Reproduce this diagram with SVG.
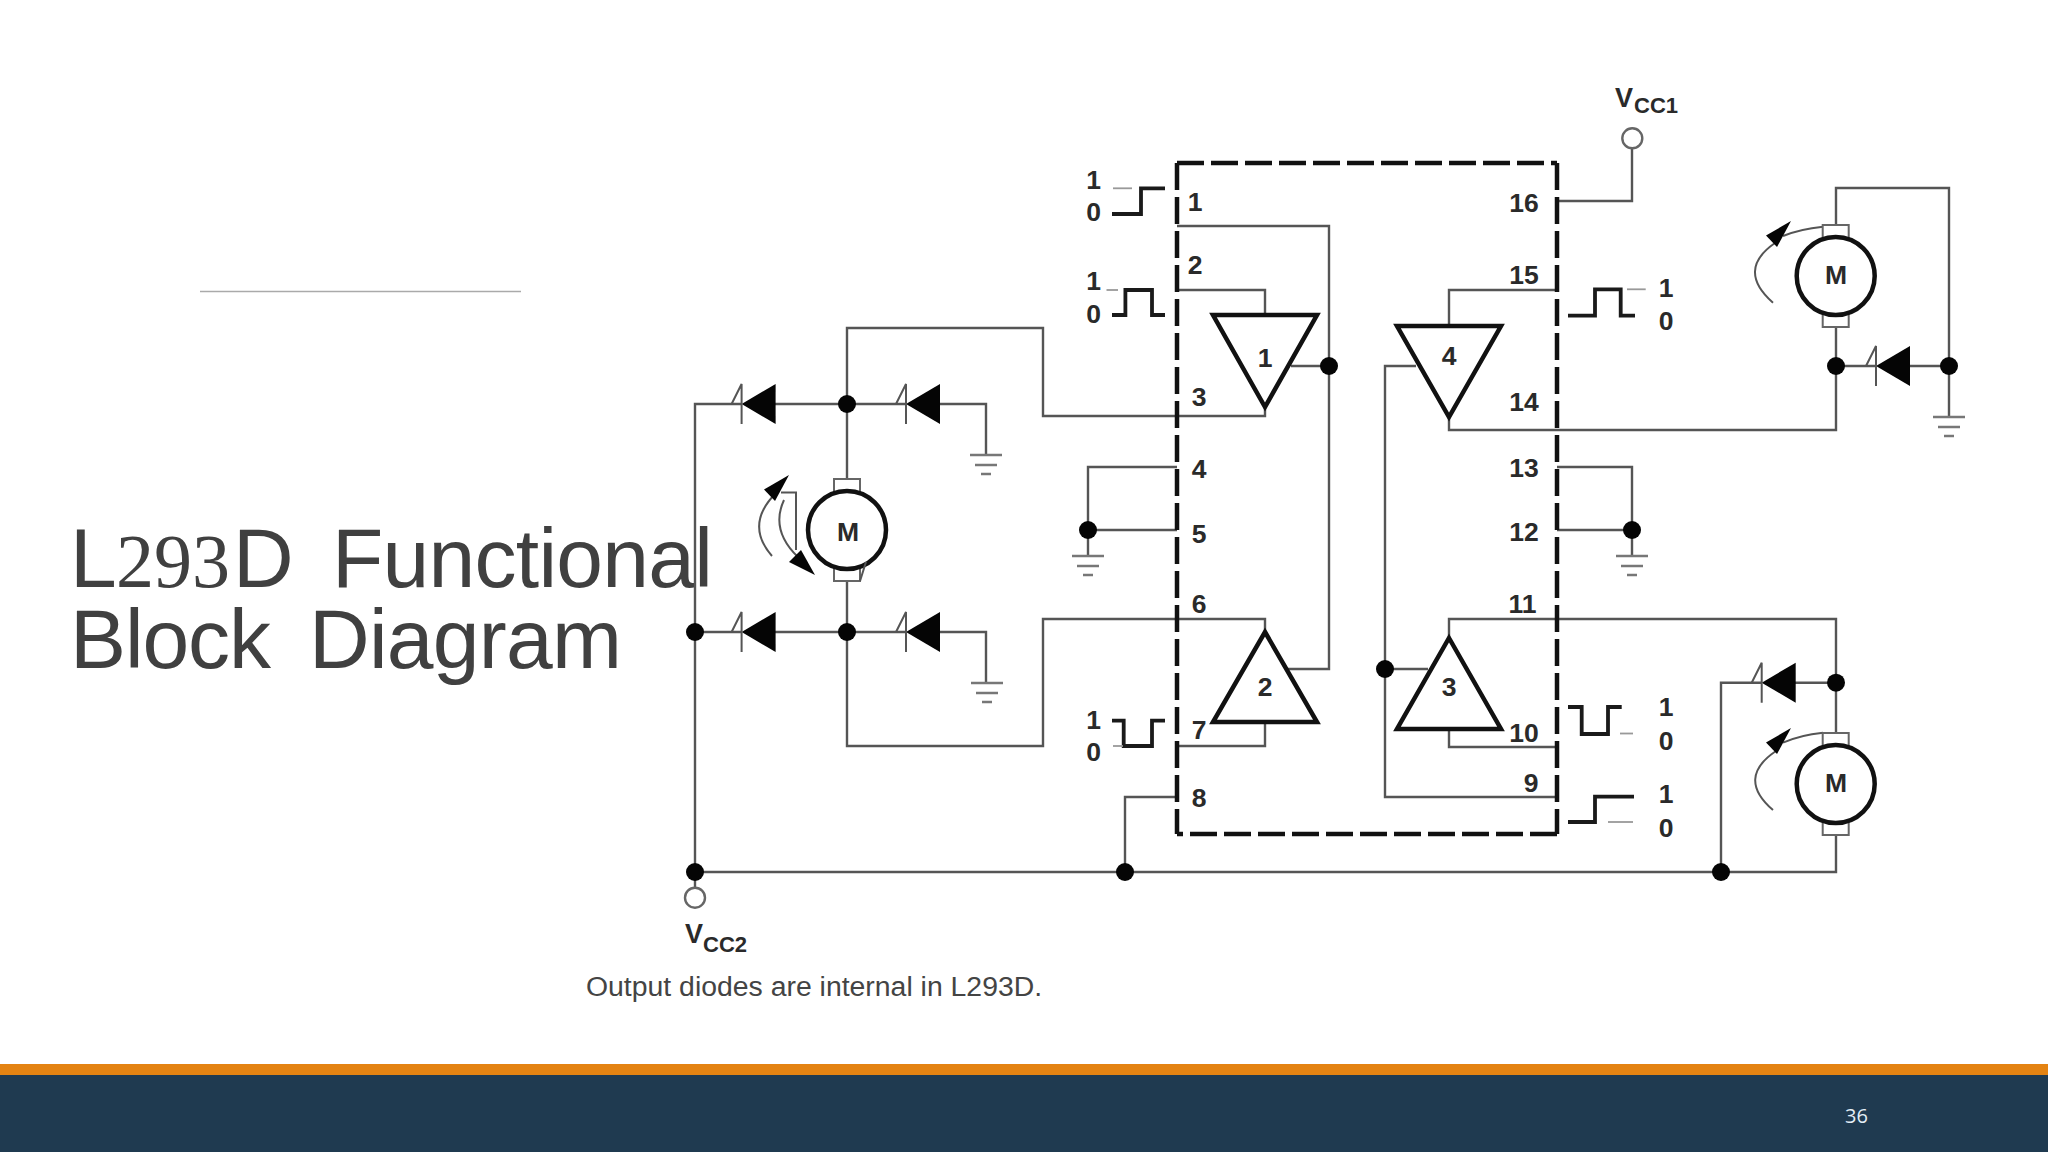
<svg xmlns="http://www.w3.org/2000/svg" xmlns:xlink="http://www.w3.org/1999/xlink" width="2048" height="1152" viewBox="0 0 2048 1152">
<style>
text{font-family:"Liberation Sans",Arial,sans-serif}
.t{font-family:"Liberation Sans",Arial,sans-serif;font-size:84px;fill:#404040}
.p{font-size:26.500px;font-weight:bold;fill:#2a2a2a;text-anchor:middle}
.w{fill:none;stroke:#555;stroke-width:2.4;stroke-linejoin:miter}
.box{fill:none;stroke:#111;stroke-width:4.5;stroke-dasharray:27 7}
.tri{fill:#fff;stroke:#111;stroke-width:4.5;stroke-linejoin:miter}
.wf{fill:none;stroke:#1a1a1a;stroke-width:3.8}
.ft{fill:none;stroke:#999;stroke-width:1.8}
.dot{fill:#050505}
.thin{fill:none;stroke:#555;stroke-width:2}
.open{fill:#fff;stroke:#666;stroke-width:2.4}
.mc{fill:#fff;stroke:#111;stroke-width:4.5}
.tab{fill:#fff;stroke:#666;stroke-width:2}
</style>
<defs>
<g id="diode"><path d="M0 0L34 -20V20Z" fill="#050505"/><path d="M0 20V-20L-10 0" class="thin"/></g>
<g id="gnd"><path d="M-16 0H16M-11 10H11M-5 19H5" fill="none" stroke="#777" stroke-width="2.6"/></g>
<g id="motor"><rect x="-13" y="-51" width="26" height="14" class="tab"/><rect x="-13" y="38" width="26" height="13" class="tab"/><circle r="39" class="mc"/></g>
<path id="head" d="M0 0L-25 14.500L-14 26Z" fill="#050505"/>
</defs>
<rect width="2048" height="1152" fill="#fff"/>
<path d="M200 291.500H521" fill="none" stroke="#aaa" stroke-width="1.600"/>
<text id="title-line-1" class="t"><tspan x="70" y="586.700">L</tspan><tspan x="116" y="586.700" style="font-family:'Liberation Serif',serif;font-size:76px">293</tspan><tspan x="233" y="586.700">D</tspan><tspan x="332" y="586.700" textLength="381" lengthAdjust="spacing">Functional</tspan></text>
<text id="title-line-2" class="t"><tspan x="70" y="667.700" textLength="201" lengthAdjust="spacing">Block</tspan><tspan x="309" y="667.700" textLength="313" lengthAdjust="spacing">Diagram</tspan></text>

<g id="connectors">
<path class="w" d="M695 897V404H742M775 404H906M940 404H986V455"/>
<path class="w" d="M847 404V328H1043V416H1265V407"/>
<path class="w" d="M847 404V480M847 582V746H1043V619H1265V632"/>
<path class="w" d="M695 632H742M775 632H906M940 632H986V683"/>
<path class="w" d="M1177 467H1088V556M1177 530H1088"/>
<path class="w" d="M1177 226H1329V669H1288M1291 366H1329"/>
<path class="w" d="M1177 290H1265V315M1177 746H1265V722"/>
<path class="w" d="M1177 797H1125V872M695 872H1836V835"/>
<path class="w" d="M1416 366H1385V797H1557M1385 669H1428"/>
<path class="w" d="M1557 290H1449V326M1449 417V430H1836V328M1836 366H1876M1910 366H1949"/>
<path class="w" d="M1836 226V188H1949V417"/>
<path class="w" d="M1557 201H1632V149"/>
<path class="w" d="M1557 467H1632V530M1557 530H1632V556"/>
<path class="w" d="M1449 638V619H1836V733M1836 682.700H1795M1762 682.700H1721V872"/>
<path class="w" d="M1449 729V747H1557"/>
<path class="thin" d="M772 556Q744 524 777 492M781 492.500H796V550M784 500Q770 530 798 557"/>
<path class="thin" d="M1773 302.700Q1736 270 1775 243M1783 236Q1800 229 1823 226.700"/>
<path class="thin" d="M1773 810Q1736 778 1776 751M1783 742.700Q1800 735 1823 732.700"/>
</g>

<g id="ic-package"><path class="box" d="M1177 163H1557M1177 163V834M1557 163V834M1557 834H1177"/></g>

<g id="driver-1"><path class="tri" d="M1213 315H1317L1265 407Z"/><text class="p" x="1265" y="366.700">1</text></g>
<g id="driver-2"><path class="tri" d="M1265 632L1317 722H1213Z"/><text class="p" x="1265" y="696">2</text></g>
<g id="driver-3"><path class="tri" d="M1449 638L1501 729H1397Z"/><text class="p" x="1449" y="696">3</text></g>
<g id="driver-4"><path class="tri" d="M1397 326H1501L1449 417Z"/><text class="p" x="1449" y="365">4</text></g>

<g id="motor-left"><use xlink:href="#motor" href="#motor" x="847" y="530"/><path class="thin" d="M866 562L860 581"/><text class="p" x="848" y="540.700">M</text>
<use xlink:href="#head" href="#head" transform="translate(789 475)"/><path d="M815 575L789 562L801 550Z" fill="#050505"/></g>
<g id="motor-top-right"><use xlink:href="#motor" href="#motor" x="1835.700" y="276"/><text class="p" x="1836" y="284">M</text><use xlink:href="#head" href="#head" transform="translate(1791 221)"/></g>
<g id="motor-bottom-right"><use xlink:href="#motor" href="#motor" x="1835.700" y="784"/><text class="p" x="1836" y="792">M</text><use xlink:href="#head" href="#head" transform="translate(1791 728)"/></g>

<g id="diodes">
<use xlink:href="#diode" href="#diode" x="741.600" y="404"/>
<use xlink:href="#diode" href="#diode" x="906" y="404"/>
<use xlink:href="#diode" href="#diode" x="741.600" y="632"/>
<use xlink:href="#diode" href="#diode" x="906" y="632"/>
<use xlink:href="#diode" href="#diode" x="1876" y="366"/>
<use xlink:href="#diode" href="#diode" x="1761.700" y="682.700"/>
</g>
<g id="grounds">
<use xlink:href="#gnd" href="#gnd" x="986" y="455"/>
<use xlink:href="#gnd" href="#gnd" x="987" y="683"/>
<use xlink:href="#gnd" href="#gnd" x="1088" y="556"/>
<use xlink:href="#gnd" href="#gnd" x="1632" y="556"/>
<use xlink:href="#gnd" href="#gnd" x="1949" y="417"/>
</g>
<g id="junctions">
<circle class="dot" cx="847" cy="404" r="9"/><circle class="dot" cx="847" cy="632" r="9"/><circle class="dot" cx="695" cy="632" r="9"/><circle class="dot" cx="695" cy="872" r="9"/><circle class="dot" cx="1088" cy="530" r="9"/><circle class="dot" cx="1125" cy="872" r="9"/><circle class="dot" cx="1329" cy="366" r="9"/><circle class="dot" cx="1385" cy="669" r="9"/><circle class="dot" cx="1632" cy="530" r="9"/><circle class="dot" cx="1836" cy="366" r="9"/><circle class="dot" cx="1949" cy="366" r="9"/><circle class="dot" cx="1836" cy="682.700" r="9"/><circle class="dot" cx="1721" cy="872" r="9"/>
</g>
<g id="vcc1"><circle class="open" cx="1632.300" cy="138.300" r="10"/><text x="1615" y="106.700" font-size="27" font-weight="bold" fill="#2a2a2a">V</text><text x="1634" y="113" font-size="22" font-weight="bold" fill="#2a2a2a">CC1</text></g>
<g id="vcc2"><circle class="open" cx="695" cy="897.700" r="10"/><text x="685" y="943" font-size="27" font-weight="bold" fill="#2a2a2a">V</text><text x="703" y="951.700" font-size="22" font-weight="bold" fill="#2a2a2a">CC2</text></g>

<g id="pins">
<text class="p" x="1195" y="210.700">1</text><text class="p" x="1195" y="274">2</text><text class="p" x="1199" y="405.700">3</text><text class="p" x="1199" y="478">4</text><text class="p" x="1199" y="542.700">5</text><text class="p" x="1199" y="613">6</text><text class="p" x="1199" y="739">7</text><text class="p" x="1199" y="806.700">8</text>
<text class="p" x="1524" y="211.700">16</text><text class="p" x="1524" y="284">15</text><text class="p" x="1524" y="410.700">14</text><text class="p" x="1524" y="477">13</text><text class="p" x="1524" y="540.700">12</text><text class="p" x="1522.500" y="613">11</text><text class="p" x="1524" y="741.700">10</text><text class="p" x="1531" y="791.700">9</text>
</g>
<g id="waveforms">
<path class="wf" d="M1112 214H1141V188.300H1165"/><path class="ft" d="M1113 188.300H1132"/>
<path class="wf" d="M1112 315H1125.400V290H1152V315H1165"/><path class="ft" d="M1106.500 290H1118"/>
<path class="wf" d="M1112 720.700H1123.700V746H1152V720.700H1165"/><path class="ft" d="M1113 746H1123"/>
<path class="wf" d="M1568 315.700H1595V289.300H1620.700V315.700H1635"/><path class="ft" d="M1627 289.300H1645.700"/>
<path class="wf" d="M1568 707H1581.700V734H1608V707H1621.700"/><path class="ft" d="M1620 733.500H1633"/>
<path class="wf" d="M1568 822H1595V796.700H1634"/><path class="ft" d="M1608 822H1633"/>
<text class="p" x="1093.500" y="189">1</text><text class="p" x="1093.500" y="220.700">0</text><text class="p" x="1093.500" y="290">1</text><text class="p" x="1093.500" y="323">0</text><text class="p" x="1093.500" y="729">1</text><text class="p" x="1093.500" y="761">0</text>
<text class="p" x="1666" y="297">1</text><text class="p" x="1666" y="330">0</text><text class="p" x="1666" y="716">1</text><text class="p" x="1666" y="750">0</text><text class="p" x="1666" y="802.700">1</text><text class="p" x="1666" y="836.700">0</text>
</g>
<text id="caption" x="586" y="996" font-size="28.400" fill="#444">Output diodes are internal in L293D.</text>
<rect id="footer-accent" y="1064" width="2048" height="11" fill="#e48312"/>
<rect id="footer" y="1075" width="2048" height="77" fill="#1f3a50"/>
<text id="page" x="1845" y="1123" style="font-family:'Open Sans',sans-serif" font-size="20" fill="#e4eef6">36</text>
</svg>
